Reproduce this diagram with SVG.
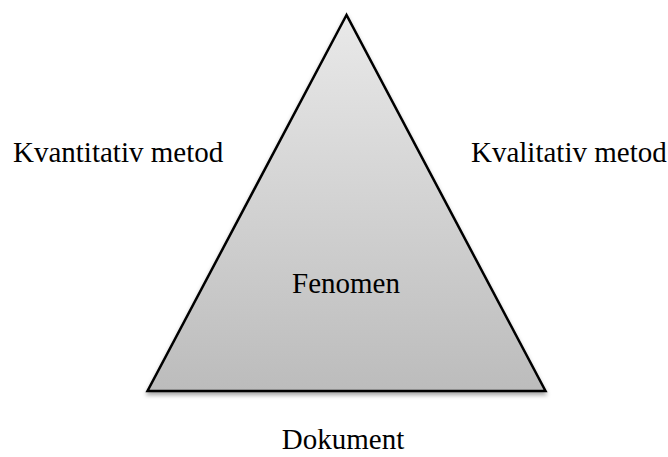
<svg xmlns="http://www.w3.org/2000/svg" width="668" height="457" viewBox="0 0 668 457">
<style>
text{font-family:"Liberation Serif","Times New Roman",serif;font-size:29px;fill:#000}
</style>
<defs>
<linearGradient id="g" x1="0" y1="0" x2="0" y2="1">
<stop offset="0" stop-color="#e9e9e9"/>
<stop offset="1" stop-color="#bcbcbc"/>
</linearGradient>
<filter id="sh" x="-10%" y="-10%" width="120%" height="130%">
<feDropShadow dx="0" dy="3" stdDeviation="2" flood-color="#000" flood-opacity="0.35"/>
</filter>
</defs>
<g id="triangle">
<polygon points="346.5,15 147.5,391 545.5,391" fill="url(#g)" stroke="#000" stroke-width="2.5" stroke-linejoin="miter" filter="url(#sh)"/>
</g>
<g id="fenomen"><text x="346" y="293" text-anchor="middle">Fenomen</text></g>
<g id="kvantitativ"><text x="13" y="162">Kvantitativ metod</text></g>
<g id="kvalitativ"><text x="471" y="162">Kvalitativ metod</text></g>
<g id="dokument"><text x="343" y="449" text-anchor="middle">Dokument</text></g>
<g id="connectors"/>
</svg>
